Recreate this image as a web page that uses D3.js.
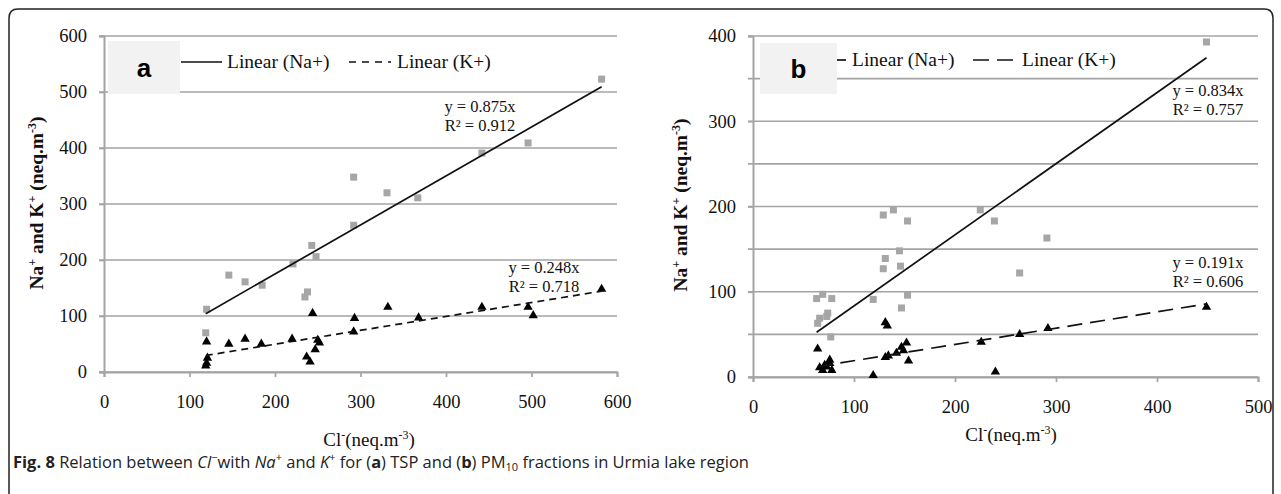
<!DOCTYPE html>
<html>
<head>
<meta charset="utf-8">
<script src="https://cdn.jsdelivr.net/npm/d3@7"></script>
<style>
  body { margin: 0; background: #fff; }
  svg { display: block; }
</style>
</head>
<body>
<svg id="chart" width="1281" height="494"></svg>
<script>
// data: [Cl-, ion]
var naA = [[119,70],[120,112],[146,173],[165,161],[185,155],[221,193],[235,134],[238,143],[243,226],[248,206],
           [292,262],[292,348],[331,320],[367,311],[442,391],[496,409],[582,523]];
var kA  = [[119,11],[120,16],[121,25],[120,54],[146,50],[165,59],[184,50],[220,59],[237,27],[241,18],[244,105],
           [247,40],[250,57],[252,52],[292,72],[293,96],[332,116],[368,97],[442,116],[496,116],[502,101],[582,148]];
var naB = [[64,63],[66,69],[74,75],[73,71],[77,47],[63,92],[69,97],[78,92],[119,91],[129,190],[139,196],[153,183],
           [131,139],[129,127],[145,148],[146,130],[147,81],[153,96],[225,196],[239,183],[291,163],[264,122],[449,393]];
var kB  = [[64,33],[66,11],[71,14],[76,20],[78,8],[69,8],[73,12],[76,16],[119,2],[131,64],[133,60],[131,23],
           [134,25],[142,28],[147,35],[152,40],[149,31],[154,19],[226,41],[240,6],[264,50],[292,57],[449,82]];

var slopeA = {na: 0.875, k: 0.248};
var slopeB = {na: 0.834, k: 0.191};
var eqA = {na: ["y = 0.875x", "R\u00b2 = 0.912"], k: ["y = 0.248x", "R\u00b2 = 0.718"]};
var eqB = {na: ["y = 0.834x", "R\u00b2 = 0.757"], k: ["y = 0.191x", "R\u00b2 = 0.606"]};

var xTicksA = [0,100,200,300,400,500,600], yTicksA = [0,100,200,300,400,500,600];
var xTicksB = [0,100,200,300,400,500], yTicksB = [0,100,200,300,400], gridB = d3.range(0, 401, 50);

var svg = d3.select("#chart");
var GRID = "#a4a4a4";
var SERIF = "Liberation Serif, serif";

// outer frame, open at the bottom
svg.append("path")
    .attr("d", "M9,494 L9,18 Q9,9 18,9 L1264,9 Q1273,9 1273,18 L1273,494")
    .attr("fill", "none").attr("stroke", "#222").attr("stroke-width", 1.5);

function panel(cfg) {
    var x = d3.scaleLinear().domain([0, cfg.xmax]).range(cfg.xr);
    var y = d3.scaleLinear().domain([0, cfg.ymax]).range(cfg.yr);
    var g = svg.append("g");

    // gridlines
    g.selectAll(".grid").data(cfg.grid).enter().append("line")
        .attr("x1", x(0) - 5).attr("x2", x(cfg.xmax))
        .attr("y1", function(d) { return y(d); }).attr("y2", function(d) { return y(d); })
        .attr("stroke", GRID).attr("stroke-width", 1.7);

    // y axis
    var ya = g.append("g").attr("transform", "translate(" + x(0) + ",0)")
        .call(d3.axisLeft(y).tickValues(cfg.yticks).tickSize(5).tickPadding(12));
    ya.select(".domain").attr("stroke", GRID).attr("stroke-width", 2);
    ya.selectAll(".tick line").attr("stroke", GRID).attr("stroke-width", 1.7);

    // x axis
    var xa = g.append("g").attr("transform", "translate(0," + y(0) + ")")
        .call(d3.axisBottom(x).tickValues(cfg.xticks).tickSize(5).tickPadding(18));
    xa.select(".domain").attr("stroke", GRID).attr("stroke-width", 2);
    xa.selectAll(".tick line").attr("stroke", GRID).attr("stroke-width", 1.7);

    g.selectAll(".tick text")
        .attr("font-family", SERIF).attr("font-size", 18.5).attr("fill", "#111");

    // Na+ points
    g.selectAll(".na").data(cfg.na).enter().append("rect")
        .attr("x", function(d) { return x(d[0]) - 3.5; })
        .attr("y", function(d) { return y(d[1]) - 3.5; })
        .attr("width", 7).attr("height", 7)
        .attr("fill", "#a6a6a6");

    // K+ points
    var tri = d3.symbol().type(d3.symbolTriangle).size(38);
    g.selectAll(".k").data(cfg.k).enter().append("path")
        .attr("d", tri)
        .attr("transform", function(d) { return "translate(" + x(d[0]) + "," + y(d[1]) + ")"; })
        .attr("fill", "#000");

    // trend lines through the origin, over the data range
    function trend(data, slope, dash) {
        var ext = d3.extent(data, function(d) { return d[0]; });
        g.append("line")
            .attr("x1", x(ext[0])).attr("y1", y(slope * ext[0]))
            .attr("x2", x(ext[1])).attr("y2", y(slope * ext[1]))
            .attr("stroke", "#111").attr("stroke-width", 1.7)
            .attr("stroke-dasharray", dash);
    }
    trend(cfg.na, cfg.slope.na, null);
    trend(cfg.k, cfg.slope.k, cfg.dash);

    // equations
    function eq(lines, px, py) {
        g.selectAll(null).data(lines).enter().append("text")
            .attr("x", px).attr("y", function(d, i) { return py + i * 19; })
            .attr("text-anchor", "middle")
            .style("font-family", SERIF).style("font-size", "16.5px")
            .attr("fill", "#111")
            .text(function(d) { return d; });
    }
    eq(cfg.eq.na, cfg.eqPos.na[0], cfg.eqPos.na[1]);
    eq(cfg.eq.k, cfg.eqPos.k[0], cfg.eqPos.k[1]);

    // legend
    var L = cfg.leg;
    g.append("line").attr("x1", L.x1).attr("x2", L.x1 + L.len).attr("y1", L.y).attr("y2", L.y)
        .attr("stroke", "#111").attr("stroke-width", 1.7);
    g.append("text").attr("x", L.t1).attr("y", L.y + 6)
        .style("font-family", SERIF).style("font-size", "19.5px").attr("fill", "#111")
        .text("Linear (Na+)");
    g.append("line").attr("x1", L.x2).attr("x2", L.x2 + L.len2).attr("y1", L.y).attr("y2", L.y)
        .attr("stroke", "#111").attr("stroke-width", 1.7).attr("stroke-dasharray", cfg.legDash);
    g.append("text").attr("x", L.t2).attr("y", L.y + 6)
        .style("font-family", SERIF).style("font-size", "19.5px").attr("fill", "#111")
        .text("Linear (K+)");

    // panel label box
    g.append("rect").attr("x", cfg.box[0]).attr("y", cfg.box[1]).attr("width", cfg.box[2]).attr("height", cfg.box[3])
        .attr("fill", "#f2f2f2");
    g.append("text").attr("x", cfg.box[0] + cfg.box[2] / 2).attr("y", cfg.box[1] + cfg.box[3] / 2 + 9)
        .attr("text-anchor", "middle")
        .style("font-family", "Liberation Sans, Arial, sans-serif").style("font-size", "26px").style("font-weight", "bold")
        .text(cfg.label);

    // axis titles
    var yt = g.append("text")
        .attr("transform", "translate(" + cfg.ytitle[0] + "," + cfg.ytitle[1] + ") rotate(-90)")
        .attr("text-anchor", "middle")
        .style("font-family", SERIF).style("font-size", "19.5px").style("font-weight", "bold")
        .attr("fill", "#111");
    yt.append("tspan").text("Na");
    yt.append("tspan").attr("baseline-shift", "super").style("font-size", "12px").text("+");
    yt.append("tspan").text(" and K");
    yt.append("tspan").attr("baseline-shift", "super").style("font-size", "12px").text("+");
    yt.append("tspan").text(" (neq.m");
    yt.append("tspan").attr("baseline-shift", "super").style("font-size", "12px").text("-3");
    yt.append("tspan").text(")");

    var xt = g.append("text")
        .attr("x", cfg.xtitle[0]).attr("y", cfg.xtitle[1])
        .attr("text-anchor", "middle")
        .style("font-family", SERIF).style("font-size", "19px")
        .attr("fill", "#111");
    xt.append("tspan").text("Cl");
    xt.append("tspan").attr("baseline-shift", "super").style("font-size", "12px").text("-");
    xt.append("tspan").text("(neq.m");
    xt.append("tspan").attr("baseline-shift", "super").style("font-size", "12px").text("-3");
    xt.append("tspan").text(")");
}

panel({
    xmax: 600, ymax: 600, xr: [104, 617], yr: [372, 36],
    xticks: xTicksA, yticks: yTicksA, grid: yTicksA,
    na: naA, k: kA, slope: slopeA, dash: "7,5", legDash: "7,6",
    eq: eqA, eqPos: {na: [480, 112], k: [544, 273]},
    leg: {y: 62, x1: 181, len: 41, t1: 227, x2: 349, len2: 42, t2: 397},
    box: [108, 41, 72, 53], label: "a",
    ytitle: [43, 203], xtitle: [369, 446]
});

panel({
    xmax: 500, ymax: 400, xr: [753, 1258], yr: [377, 36],
    xticks: xTicksB, yticks: yTicksB, grid: gridB,
    na: naB, k: kB, slope: slopeB, dash: "15,8", legDash: "16,8",
    eq: eqB, eqPos: {na: [1208, 96], k: [1208, 268]},
    leg: {y: 60, x1: 830, len: 16, t1: 852, x2: 973, len2: 44, t2: 1022},
    box: [760, 43, 77, 51], label: "b",
    ytitle: [687, 205], xtitle: [1011, 441]
});

// caption
var cap = svg.append("text").attr("x", 13).attr("y", 468)
    .style("font-family", "Open Sans, Noto Sans, sans-serif").style("font-size", "16.5px").attr("fill", "#222");
cap.append("tspan").style("font-weight", "bold").text("Fig. 8");
cap.append("tspan").text(" Relation between ");
cap.append("tspan").style("font-style", "italic").text("Cl");
cap.append("tspan").attr("baseline-shift", "super").style("font-size", "11px").text("\u2212");
cap.append("tspan").text("with ");
cap.append("tspan").style("font-style", "italic").text("Na");
cap.append("tspan").attr("baseline-shift", "super").style("font-size", "11px").text("+");
cap.append("tspan").text(" and ");
cap.append("tspan").style("font-style", "italic").text("K");
cap.append("tspan").attr("baseline-shift", "super").style("font-size", "11px").text("+");
cap.append("tspan").text(" for (");
cap.append("tspan").style("font-weight", "bold").text("a");
cap.append("tspan").text(") TSP and (");
cap.append("tspan").style("font-weight", "bold").text("b");
cap.append("tspan").text(") PM");
cap.append("tspan").attr("baseline-shift", "-3px").style("font-size", "11px").text("10");
cap.append("tspan").text(" fractions in Urmia lake region");
</script>
</body>
</html>
